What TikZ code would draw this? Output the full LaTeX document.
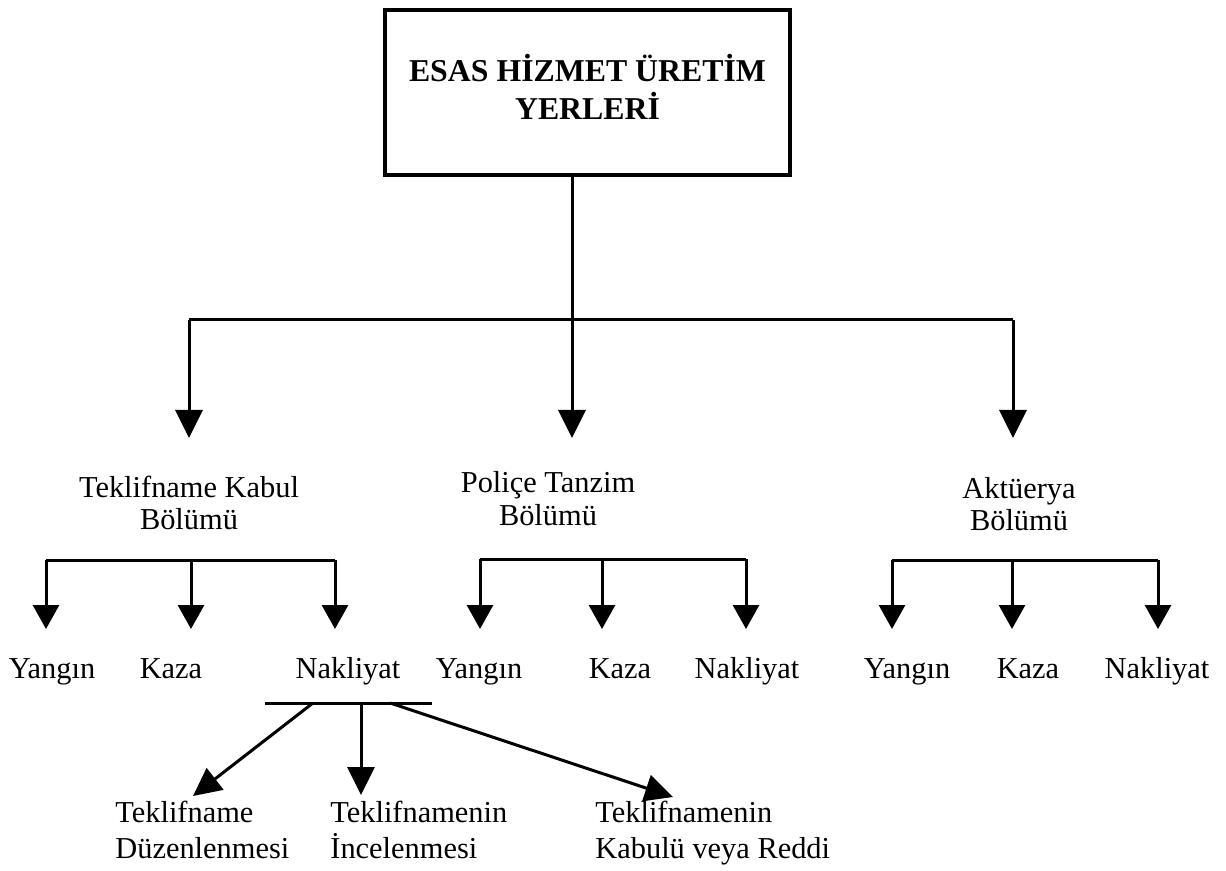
\documentclass[tikz,border=0pt]{standalone}
\usepackage{fontspec}
\setmainfont{Liberation Serif}
\usetikzlibrary{arrows.meta}
\setlength{\tabcolsep}{0pt}
\begin{document}
\begin{tikzpicture}[x=0.5pt,y=-0.5pt,
  line/.style={line width=1.5pt, line cap=butt, line join=miter},
  arr/.style={line, -{Triangle[width=13.5pt,length=14pt]}},
  arrs/.style={line, -{Triangle[width=13pt,length=12pt]}},
  headbox/.style={draw, line width=2pt, inner sep=0pt,
    minimum width=202.5pt, minimum height=82.5pt,
    font=\fontsize{15.9pt}{19pt}\selectfont\bfseries},
  dept/.style={inner sep=0pt, anchor=base, font=\fontsize{15.2pt}{16.5pt}\selectfont},
  leaf/.style={inner sep=0pt, anchor=base, font=\fontsize{15.2pt}{16.5pt}\selectfont},
  task/.style={inner sep=0pt, anchor=base west, font=\fontsize{15.2pt}{18pt}\selectfont}
]
\useasboundingbox (0,0) rectangle (1226,871);

% head unit
\node[headbox] (top) at (587.5,92.5)
  {\begin{tabular}[t]{c}ESAS HİZMET ÜRETİM\\YERLERİ\end{tabular}};

% departments
\node[dept] (teklif) at (189,497) {\begin{tabular}[t]{c}Teklifname Kabul\\Bölümü\end{tabular}};
\node[dept] (police) at (548,493) {\begin{tabular}[t]{c}Poliçe Tanzim\\Bölümü\end{tabular}};
\node[dept] (aktuerya) at (1019,498) {\begin{tabular}[t]{c}Aktüerya\\Bölümü\end{tabular}};

% first-level distribution
\coordinate (hub) at (572,320);
\coordinate (hubL) at (189,320);
\coordinate (hubR) at (1013,320);
\coordinate (tipL) at (189,438);
\coordinate (tipM) at (572,438);
\coordinate (tipR) at (1013,438);
\draw[line] (top.south -| hub) -- (hub);
\draw[line] (hubL) -- (hubR);
\draw[arr] (hubL) -- (tipL);
\draw[arr] (hub) -- (tipM);
\draw[arr] (hubR) -- (tipR);

% branches under each department
\foreach \g/\xa/\xb/\xc/\yb/\ta/\tb/\tc in {
    A/46/191/335/560/52/171/348,
    B/480/602/746/559/479/620/747,
    C/892/1012/1158/560/907/1028/1157} {
  \coordinate (\g1) at (\xa,\yb);
  \coordinate (\g2) at (\xb,\yb);
  \coordinate (\g3) at (\xc,\yb);
  \coordinate (\g1t) at (\xa,629);
  \coordinate (\g2t) at (\xb,629);
  \coordinate (\g3t) at (\xc,629);
  \draw[line] (\g1) -- (\g3);
  \draw[arrs] (\g1) -- (\g1t);
  \draw[arrs] (\g2) -- (\g2t);
  \draw[arrs] (\g3) -- (\g3t);
  \node[leaf] (\g yangin) at (\ta,678) {Yangın};
  \node[leaf] (\g kaza) at (\tb,678) {Kaza};
  \node[leaf] (\g nakliyat) at (\tc,678) {Nakliyat};
}

% steps under Nakliyat
\coordinate (nbarL) at (265,703);
\coordinate (nbarR) at (432,703);
\coordinate (n1) at (313,703);
\coordinate (n2) at (361,703);
\coordinate (n3) at (390,703);
\coordinate (n1t) at (193,796);
\coordinate (n2t) at (361,795);
\coordinate (n3t) at (673,797);
\draw[line] (nbarL) -- (nbarR);
\draw[arr] (n1) -- (n1t);
\draw[arr] (n2) -- (n2t);
\draw[arr] (n3) -- (n3t);

\node[task] (duzen) at (115,822) {\begin{tabular}[t]{l}Teklifname\\Düzenlenmesi\end{tabular}};
\node[task] (incel) at (330,822) {\begin{tabular}[t]{l}Teklifnamenin\\İncelenmesi\end{tabular}};
\node[task] (kabul) at (595,822) {\begin{tabular}[t]{l}Teklifnamenin\\Kabulü veya Reddi\end{tabular}};
\end{tikzpicture}
\end{document}
